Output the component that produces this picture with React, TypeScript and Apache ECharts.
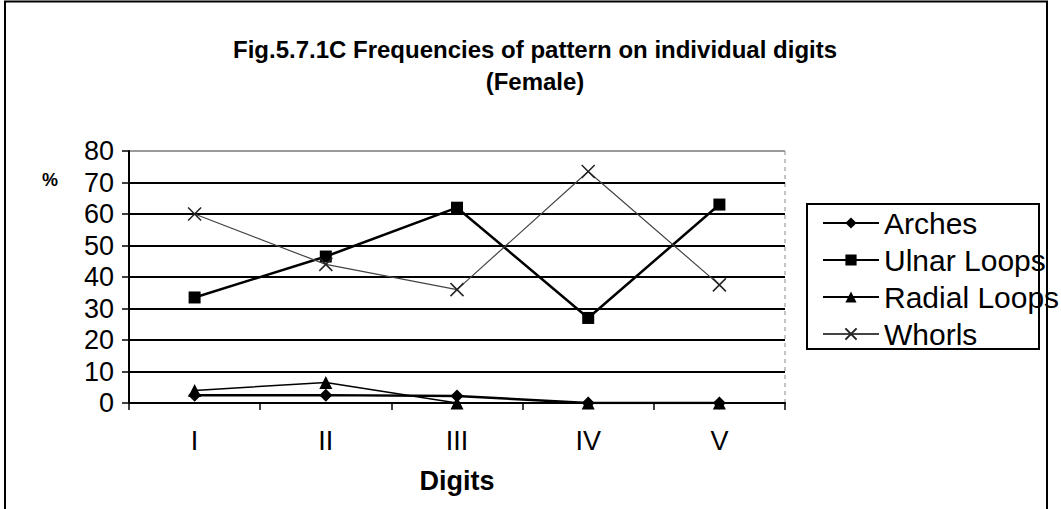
import React, { useEffect, useRef } from "react";
import * as echarts from "echarts";

const digits = ["I", "II", "III", "IV", "V"];
const arches = [2.5, 2.5, 2.2, 0, 0];
const ulnarLoops = [33.5, 46.5, 62, 27, 63];
const radialLoops = [4, 6.5, 0, 0, 0];
const whorls = [60, 44, 36, 73.5, 37.5];
const yTicks = [0, 10, 20, 30, 40, 50, 60, 70, 80];

const FONT = "Arial, 'Liberation Sans', Helvetica, sans-serif";
const X_PATH = "path://M0,0L10,10M10,0L0,10";

export default function App() {
  const ref = useRef<HTMLDivElement>(null);
  useEffect(() => {
    document.body.style.margin = "0";
    const chart = echarts.init(ref.current!, null, { renderer: "svg" });
    const splitColors = yTicks.map((v, i) => (i === yTicks.length - 1 ? "#9a9a9a" : "#000"));
    chart.setOption({
      animation: false,
      backgroundColor: "#fff",
      title: {
        text: "Fig.5.7.1C Frequencies of pattern on individual digits\n(Female)",
        left: 530,
        top: 28,
        textAlign: "center",
        textStyle: {
          fontFamily: "'Liberation Sans Narrow', 'Arial Narrow', " + FONT,
          fontWeight: "bold",
          fontSize: 24,
          lineHeight: 32,
          color: "#000",
        },
      },
      grid: { left: 129, top: 151, width: 656, height: 252, show: false },
      legend: {
        orient: "vertical",
        left: 817,
        top: 203,
        itemGap: 7,
        itemWidth: 56,
        itemHeight: 14,
        textStyle: { fontFamily: FONT, fontSize: 30, lineHeight: 30, color: "#000", padding: [0, 0, 0, 0] },
        data: ["Arches", "Ulnar Loops", "Radial Loops", "Whorls"],
      },
      xAxis: {
        type: "category",
        data: digits,
        boundaryGap: true,
        name: "Digits",
        nameLocation: "middle",
        nameGap: 64,
        nameTextStyle: {
          fontFamily: "'Liberation Sans Narrow', 'Arial Narrow', " + FONT,
          fontWeight: "bold",
          fontSize: 27,
          color: "#000",
        },
        axisLine: { lineStyle: { color: "#000", width: 2 } },
        axisTick: { show: true, length: 7, lineStyle: { color: "#000", width: 1.5 } },
        axisLabel: { fontFamily: FONT, fontSize: 27, color: "#000", margin: 24 },
        splitLine: { show: false },
      },
      yAxis: {
        type: "value",
        min: 0,
        max: 80,
        interval: 10,
        axisLine: { show: true, lineStyle: { color: "#000", width: 2 } },
        axisTick: { show: true, length: 7, lineStyle: { color: "#000", width: 1.5 } },
        axisLabel: { fontFamily: FONT, fontSize: 27, color: "#000", margin: 15 },
        splitLine: { show: true, lineStyle: { color: splitColors, width: 2 } },
      },
      series: [
        {
          name: "Arches",
          type: "line",
          data: arches,
          symbol: "diamond",
          symbolSize: 13,
          lineStyle: { color: "#000", width: 2.5 },
          itemStyle: { color: "#000" },
          z: 4,
        },
        {
          name: "Ulnar Loops",
          type: "line",
          data: ulnarLoops,
          symbol: "rect",
          symbolSize: 12,
          lineStyle: { color: "#000", width: 2.5 },
          itemStyle: { color: "#000" },
          z: 5,
        },
        {
          name: "Radial Loops",
          type: "line",
          data: radialLoops,
          symbol: "triangle",
          symbolSize: 13,
          lineStyle: { color: "#000", width: 1.5 },
          itemStyle: { color: "#000" },
          z: 3,
        },
        {
          name: "Whorls",
          type: "line",
          data: whorls,
          symbol: X_PATH,
          symbolSize: 13,
          lineStyle: { color: "#444", width: 1.2 },
          itemStyle: { color: "none", borderColor: "#222", borderWidth: 1.5 },
          z: 6,
        },
      ],
      graphic: [
        {
          type: "polyline",
          shape: { points: [[5, 520], [5, 1.5], [1047, 1.5], [1047, 520]] },
          style: { stroke: "#000", lineWidth: 2, fill: "none" },
          silent: true,
        },
        {
          type: "rect",
          shape: { x: 807, y: 204, width: 232, height: 145 },
          style: { stroke: "#000", lineWidth: 2, fill: "none" },
          silent: true,
          z: -1,
        },
        {
          type: "line",
          shape: { x1: 785, y1: 151, x2: 785, y2: 403 },
          style: { stroke: "#888", lineWidth: 1, lineDash: [4, 4] },
          silent: true,
        },
        {
          type: "text",
          left: 42,
          top: 171,
          style: { text: "%", fontFamily: FONT, fontWeight: "bold", fontSize: 18, fill: "#000" },
        },
      ],
    });
    return () => chart.dispose();
  }, []);
  return <div ref={ref} style={{ width: 1061, height: 509 }} />;
}
